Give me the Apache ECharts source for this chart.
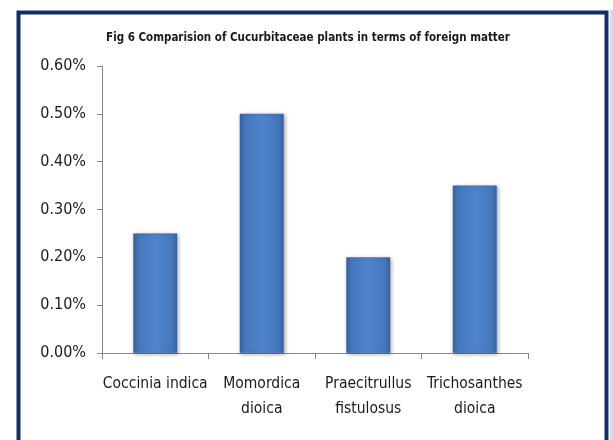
<!DOCTYPE html>
<html>
<head>
<meta charset="utf-8">
<script src="https://cdn.jsdelivr.net/npm/echarts@6/dist/echarts.min.js"></script>
<style>
html,body{margin:0;padding:0;background:#fff;}
#c{width:613px;height:440px;}
</style>
</head>
<body>
<div id="c"></div>
<script>
var titleText = 'Fig 6 Comparision of Cucurbitaceae plants in terms of foreign matter';
var categories = ['Coccinia indica', 'Momordica\ndioica', 'Praecitrullus\nfistulosus', 'Trichosanthes\ndioica'];
var values = [0.25, 0.50, 0.20, 0.35];
var yMin = 0, yMax = 0.6, yInterval = 0.1;

var font = '"Liberation Sans Narrow", "DejaVu Sans Condensed", sans-serif';
var chart = echarts.init(document.getElementById('c'));
chart.setOption({
  animation: false,
  backgroundColor: '#ffffff',
  title: {
    text: titleText,
    left: 303, top: 27, textAlign: 'center',
    textStyle: {fontFamily: font, fontSize: 11.5, fontWeight: 'bold', color: '#1a1a1a'}
  },
  graphic: [
    {type: 'rect', shape: {x: 18.5, y: 12.5, width: 588, height: 460},
     style: {fill: 'none', stroke: '#10306a', lineWidth: 4}, z: 100},
    {type: 'rect', shape: {x: 610, y: 10, width: 4, height: 440},
     style: {fill: '#d3ddee'}, z: 100}
  ],
  grid: {left: 102, right: 85, top: 66, bottom: 87},
  xAxis: {
    type: 'category',
    data: categories,
    axisLine: {lineStyle: {color: '#868686', width: 1}},
    axisTick: {show: true, length: 6, alignWithLabel: false, lineStyle: {color: '#868686'}},
    axisLabel: {fontFamily: font, fontSize: 15.5, color: '#1a1a1a', margin: 18, lineHeight: 25, interval: 0}
  },
  yAxis: {
    type: 'value',
    min: yMin, max: yMax, interval: yInterval,
    axisLine: {show: true, lineStyle: {color: '#868686', width: 1}},
    axisTick: {show: true, length: 5, lineStyle: {color: '#868686'}},
    splitLine: {show: false},
    axisLabel: {fontFamily: font, fontSize: 16, color: '#1a1a1a', margin: 16,
      formatter: function (v) { return v.toFixed(2) + '%'; }}
  },
  series: [{
    type: 'bar',
    data: values,
    barWidth: 44,
    itemStyle: {
      color: new echarts.graphic.LinearGradient(0, 0, 1, 0, [
        {offset: 0, color: '#3863a0'},
        {offset: 0.12, color: '#4677bd'},
        {offset: 0.5, color: '#4f84cd'},
        {offset: 0.88, color: '#4677bd'},
        {offset: 1, color: '#3863a0'}
      ]),
      borderColor: '#3a68a8', borderWidth: 0.5,
      shadowColor: 'rgba(0,0,0,0.35)', shadowBlur: 4, shadowOffsetX: 1, shadowOffsetY: 1
    }
  }]
});
</script>
</body>
</html>
